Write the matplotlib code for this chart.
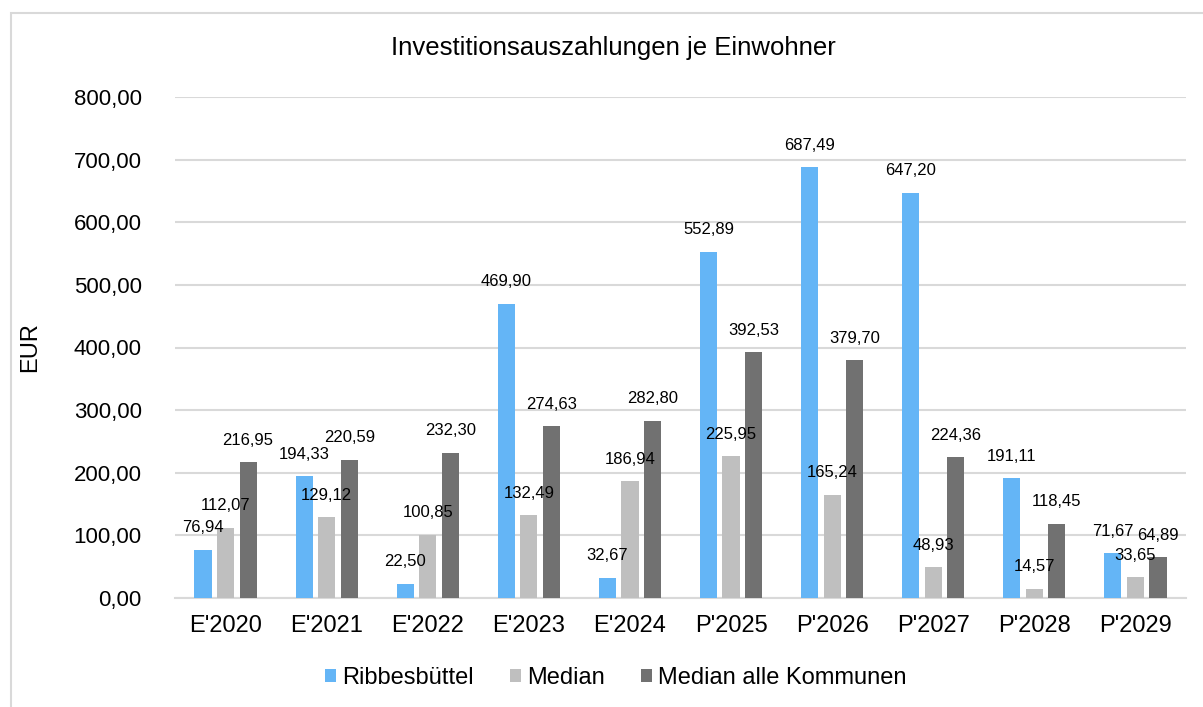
import numpy as np
import matplotlib
matplotlib.use("Agg")
import matplotlib.pyplot as plt
from matplotlib.patches import Rectangle

plt.rcParams['font.family'] = ['Liberation Sans', 'DejaVu Sans']

# Daten
kategorien = ["E'2020", "E'2021", "E'2022", "E'2023", "E'2024",
              "P'2025", "P'2026", "P'2027", "P'2028", "P'2029"]
ribbesbuettel = [76.94, 194.33, 22.50, 469.90, 32.67, 552.89, 687.49, 647.20, 191.11, 71.67]
median = [112.07, 129.12, 100.85, 132.49, 186.94, 225.95, 165.24, 48.93, 14.57, 33.65]
median_alle = [216.95, 220.59, 232.30, 274.63, 282.80, 392.53, 379.70, 224.36, 118.45, 64.89]

serien = ["Ribbesbüttel", "Median", "Median alle Kommunen"]
farben = ["#64B5F6", "#BFBFBF", "#717171"]


def fmt(v):
    return f"{v:,.2f}".replace(",", "X").replace(".", ",").replace("X", ".")


fig = plt.figure(figsize=(12.03, 7.07), dpi=100)
ax = fig.add_axes([175 / 1203, 109 / 707, 1011 / 1203, 501 / 707])

# Rahmen um das Diagramm
fig.patches.append(Rectangle((11 / 1203, -0.05), 1.2, (707 - 13) / 707 + 0.05,
                             transform=fig.transFigure, fill=False,
                             edgecolor="#D9D9D9", linewidth=1.5))

x = np.arange(len(kategorien))
breite = 0.17
abstand = 0.223
for i, (werte, name, farbe) in enumerate(zip([ribbesbuettel, median, median_alle], serien, farben)):
    pos = x + (i - 1) * abstand
    ax.bar(pos, werte, breite, color=farbe, label=name, zorder=3)
    for px, v in zip(pos, werte):
        ax.text(px, v + 35, fmt(v), ha="center", va="center", fontsize=12, zorder=4)

ax.set_xlim(-0.5, len(kategorien) - 0.5)
ax.set_ylim(0, 800)
ax.set_yticks(np.arange(0, 801, 100))
ax.set_yticklabels([fmt(t) for t in np.arange(0, 801, 100)], fontsize=16)
ax.set_xticks(x)
ax.set_xticklabels(kategorien, fontsize=17)
ax.tick_params(length=0, pad=12)
ax.tick_params(axis="y", pad=24)

ax.grid(axis="y", color="#D9D9D9", linewidth=1.5, zorder=0)
for s in ["top", "right", "left"]:
    ax.spines[s].set_visible(False)
ax.spines["bottom"].set_color("#D9D9D9")
ax.spines["bottom"].set_linewidth(1.5)

ax.set_ylabel("EUR", fontsize=17)
ax.yaxis.set_label_coords(-0.132, 0.5)

fig.text(0.51, 1 - 48 / 707, "Investitionsauszahlungen je Einwohner",
         ha="center", va="center", fontsize=18.5)

ax.legend(loc="center", bbox_to_anchor=(0.436, -0.16), ncol=3, frameon=False,
          fontsize=17, handlelength=0.47, handleheight=0.47, handletextpad=0.28,
          columnspacing=1.5)

fig.savefig("out.png", dpi=100)
